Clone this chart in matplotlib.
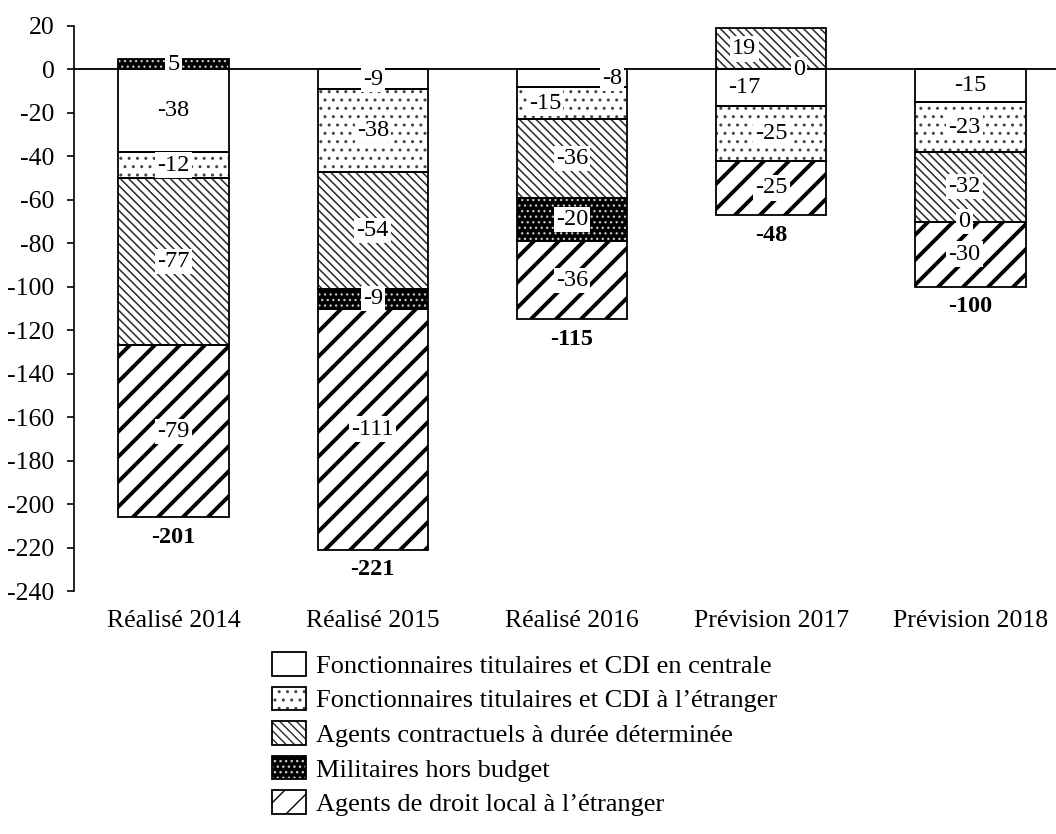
import matplotlib
matplotlib.use('Agg')
import numpy as np
import matplotlib.pyplot as plt
import matplotlib.hatch as mhatch
from matplotlib.patches import Patch
from matplotlib.legend_handler import HandlerTuple

plt.rcParams['font.family'] = ['Liberation Serif', 'DejaVu Serif']
plt.rcParams['axes.unicode_minus'] = False

categories = ['Réalisé 2014', 'Réalisé 2015', 'Réalisé 2016', 'Prévision 2017', 'Prévision 2018']
series_names = [
    'Fonctionnaires titulaires et CDI en centrale',
    "Fonctionnaires titulaires et CDI à l’étranger",
    'Agents contractuels à durée déterminée',
    'Militaires hors budget',
    "Agents de droit local à l’étranger",
]
centrale = [-38, -9, -8, -17, -15]
etranger = [-12, -38, -15, -25, -23]
cdd = [-77, -54, -36, 19, -32]
militaires = [5, -9, -20, 0, 0]
droit_local = [-79, -111, -36, -25, -30]
totals = [-201, -221, -115, -48, -100]
y_ticks = list(range(-240, 21, 20))

series = [centrale, etranger, cdd, militaires, droit_local]


# slightly denser "wide upward diagonal" pattern for '/'
class _DenserNE(mhatch.NorthEastHatch):
    def __init__(self, hatch, density):
        self.num_lines = int(round((hatch.count('/') + hatch.count('x') + hatch.count('X'))
                                   * density * 1.3))
        if self.num_lines:
            self.num_vertices = (self.num_lines + 1) * 2
        else:
            self.num_vertices = 0


mhatch._hatch_types[:] = [(_DenserNE if t is mhatch.NorthEastHatch else t)
                          for t in mhatch._hatch_types]

# style: facecolor, hatch, hatch colour, hatch linewidth
styles = [
    ('white', None, 'black', 1.0),
    ('white', '..', '#444444', 1.0),
    ('white', '\\\\\\\\', '#2a2a2a', 1.1),
    ('black', '...', '#c8c8c8', 0.9),
    ('white', '/', 'black', 2.8),
]

FS = 18.5
fig = plt.figure(figsize=(10.56, 8.34), dpi=100)
ax = fig.add_axes([74 / 1056, 1 - 591 / 834, (1056 - 74) / 1056, (591 - 26) / 834])

width = 0.555


def styled_bar(x, h, b, st):
    fc, hatch, hc, hlw = st
    with plt.rc_context({'hatch.linewidth': hlw}):
        bars = ax.bar(x, h, bottom=b, width=width, color=fc, edgecolor=hc,
                      hatch=hatch, linewidth=0, zorder=2)
    for p in bars:
        if hasattr(p, 'set_hatch_linewidth'):
            p.set_hatch_linewidth(hlw)
    ax.bar(x, h, bottom=b, width=width, fill=False, edgecolor='black',
           linewidth=1.3, zorder=2.5)


# label adjustments (x offset in category units, optional y override)
label_dx = {(2, 0): 0.20, (2, 1): -0.135, (3, 2): -0.135, (3, 0): -0.135, (3, 3): 0.14,
            (4, 1): -0.03, (4, 2): -0.03, (4, 3): -0.03, (4, 4): -0.03}
label_y = {(3, 3): 0.0}

neg_bottoms = []
for i in range(len(categories)):
    pos = 0.0
    neg = 0.0
    for s, vals in enumerate(series):
        v = vals[i]
        if v > 0:
            b = pos
            pos += v
        else:
            b = neg
            neg += v
        if v != 0:
            styled_bar(i, v, b, styles[s])
        ly = label_y.get((i, s), b + v / 2)
        lx = i + label_dx.get((i, s), 0.0)
        ax.text(lx, ly, f'{v}', ha='center', va='center', fontsize=FS - 1, zorder=5,
                bbox=dict(facecolor='white', edgecolor='none', pad=1.5))
    neg_bottoms.append(neg)

for i, t in enumerate(totals):
    ax.annotate(f'{t}', xy=(i, neg_bottoms[i]), xytext=(0, -14.5), textcoords='offset points',
                ha='center', va='center', fontsize=FS - 1, fontweight='bold')

ax.axhline(0, color='black', linewidth=1.3, zorder=3)

ax.set_xlim(-0.5, 4.43)
ax.set_ylim(-240, 20)
ax.set_yticks(y_ticks)
ax.set_yticklabels([str(t) for t in y_ticks])
ax.set_xticks(range(len(categories)))
ax.set_xticklabels(categories)
ax.tick_params(axis='x', length=0, pad=14, labelsize=FS)
ax.tick_params(axis='y', length=5, width=1.2, pad=9, labelsize=FS, direction='out')
for sp in ['top', 'right', 'bottom']:
    ax.spines[sp].set_visible(False)
ax.spines['left'].set_linewidth(1.2)

handles = []
for st in styles:
    fc, hatch, hc, hlw = st
    with plt.rc_context({'hatch.linewidth': hlw}):
        p1 = Patch(facecolor=fc, edgecolor=hc, hatch=hatch, linewidth=0)
    if hasattr(p1, 'set_hatch_linewidth'):
        p1.set_hatch_linewidth(hlw)
    p2 = Patch(fill=False, edgecolor='black', linewidth=1.3)
    handles.append((p1, p2))

fig.legend(handles, series_names, handler_map={tuple: HandlerTuple(ndivide=1)},
           loc='upper left', bbox_to_anchor=(272 / 1056, 1 - 652 / 834),
           frameon=False, fontsize=19, borderpad=0, borderaxespad=0,
           handlelength=1.3, handleheight=1.0, handletextpad=0.35, labelspacing=0.33)

fig.savefig('out.png', dpi=100)
